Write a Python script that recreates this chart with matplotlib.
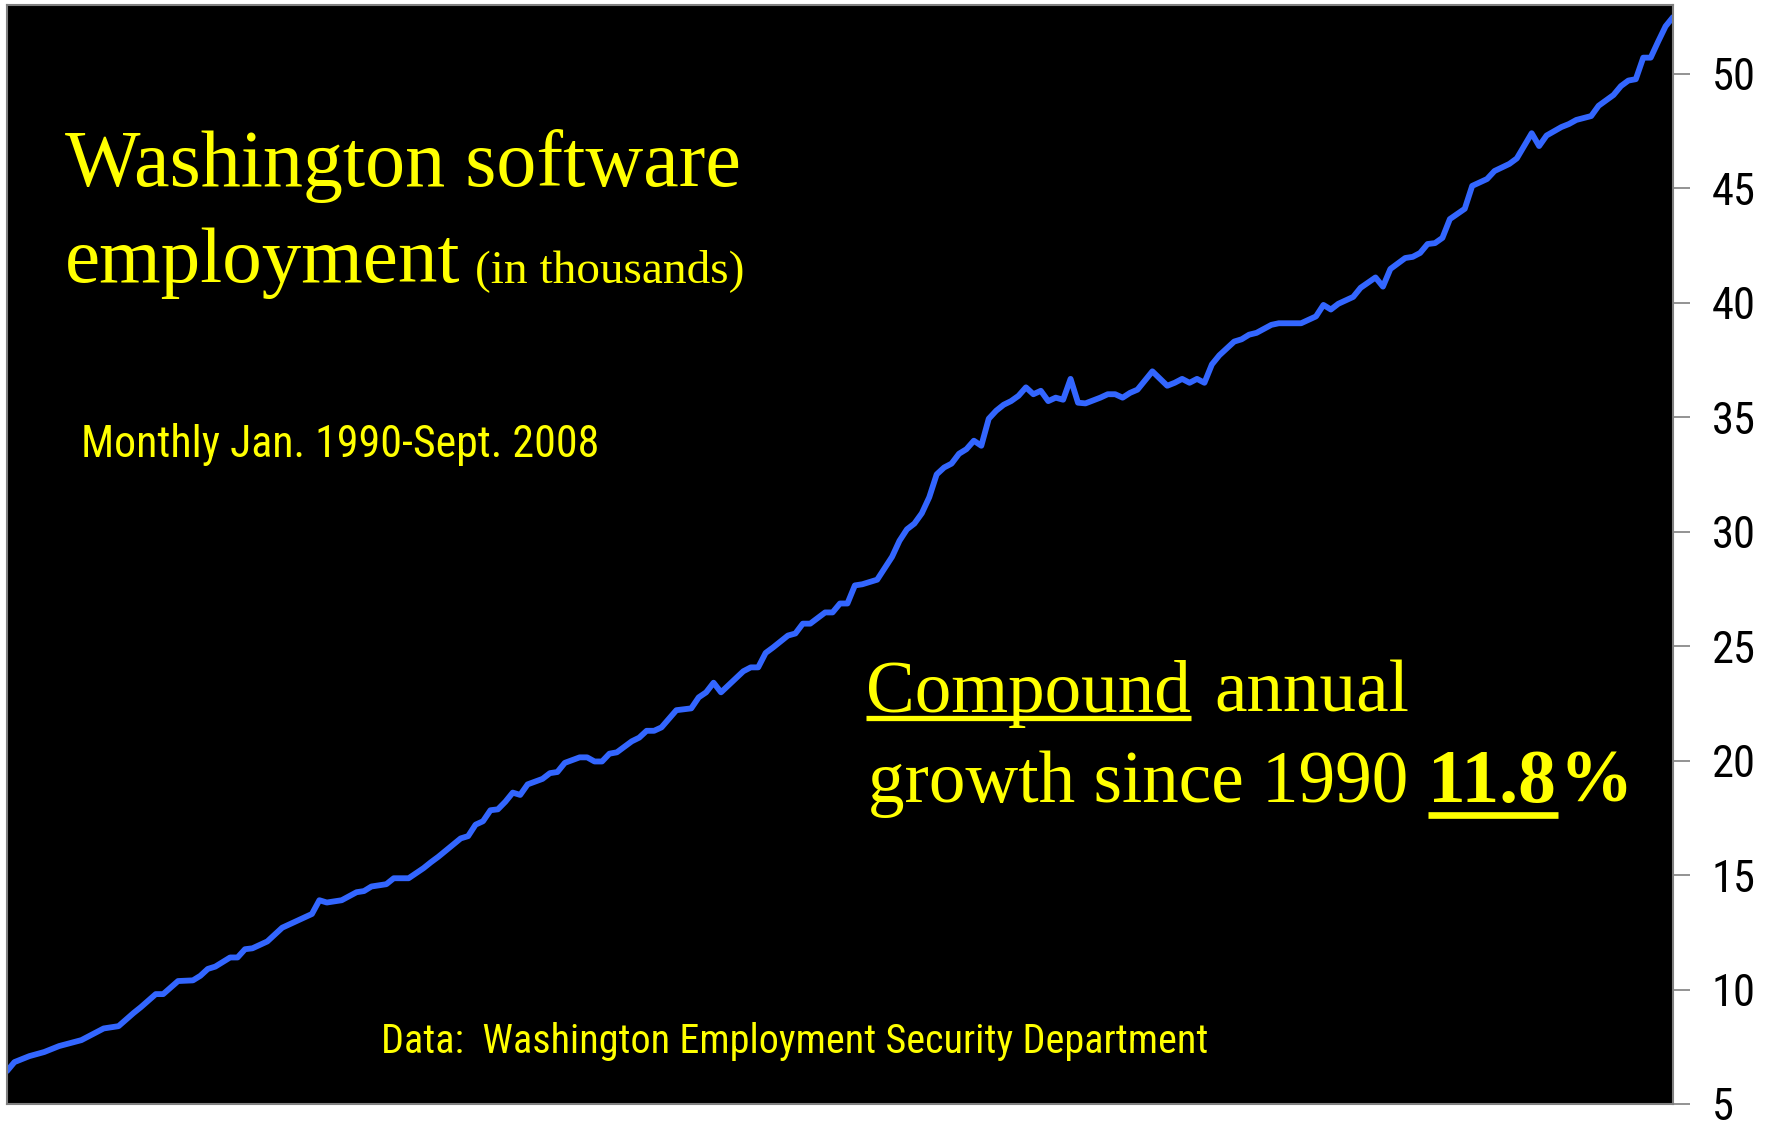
import os
import matplotlib
matplotlib.use("Agg")
import matplotlib.pyplot as plt
from matplotlib import font_manager
from matplotlib.lines import Line2D

# ---- data ----
months = [0, 1, 3, 5, 7, 10, 13, 15, 17, 18, 20, 21, 23, 25, 26, 27, 28, 30, 31, 32, 33, 35, 37, 39, 41, 42, 43, 45,
          47, 48, 49, 51, 52, 54, 56, 57, 58, 61, 62, 63, 64,
          65, 66, 67, 68, 69, 70, 72, 73, 74, 75, 77, 78, 79, 80, 81, 82, 84, 85, 86, 87, 88, 90, 92, 93, 94, 95, 96,
          99, 100, 101, 102, 103, 105, 106, 107, 108, 110, 111, 112, 113, 114, 115, 117,
          119, 120, 121, 122, 123, 124, 125, 126, 127, 128, 129, 130, 131, 132, 133, 134, 135, 136, 137, 138, 139, 140,
          141, 142, 143, 144, 145, 147, 148, 149, 150, 151, 152, 154, 156, 157, 158, 159, 160, 161, 162, 163, 165,
          166, 167, 168, 170, 171, 174, 176, 177, 178, 179, 181, 182, 184, 185, 186, 188, 189, 190, 191, 192, 193, 194,
          196, 197, 199, 200, 202, 203, 205, 206, 207, 209, 210, 211, 213, 214, 216, 217, 218, 219, 220, 221, 222, 223, 224]
employment = [6.44, 6.83, 7.09, 7.27, 7.53, 7.79, 8.3, 8.4, 8.97, 9.23, 9.8, 9.8, 10.37, 10.4, 10.6, 10.9, 11.0, 11.4,
              11.4, 11.76, 11.8, 12.1, 12.7, 13.0, 13.3, 13.9, 13.8, 13.9, 14.25, 14.3, 14.5, 14.6, 14.86, 14.86, 15.3,
              15.56, 15.8, 16.6, 16.7, 17.2, 17.35,
              17.83, 17.87, 18.2, 18.6, 18.5, 18.96, 19.2, 19.45, 19.5, 19.9, 20.14, 20.14, 19.96, 19.96, 20.3, 20.36,
              20.84, 21.0, 21.3, 21.3, 21.45, 22.2, 22.28, 22.76, 22.98, 23.4, 22.98, 23.9, 24.07, 24.07, 24.7, 24.94,
              25.46, 25.55, 25.98, 25.98, 26.47, 26.47, 26.86, 26.86, 27.65, 27.7, 27.9,
              28.9, 29.6, 30.1, 30.35, 30.8, 31.5, 32.5, 32.8, 32.97, 33.4, 33.6, 33.97, 33.75, 34.93, 35.28, 35.54,
              35.7, 35.93, 36.3, 36.0, 36.15, 35.7, 35.85, 35.76, 36.67, 35.63, 35.6, 35.85, 36.0, 36.0, 35.85, 36.06,
              36.2, 37.0, 36.37, 36.5, 36.67, 36.5, 36.67, 36.5, 37.3, 37.7, 38.3,
              38.4, 38.6, 38.68, 39.03, 39.1, 39.1, 39.4, 39.9, 39.7, 39.95, 40.25, 40.65, 41.1, 40.7, 41.47, 41.95,
              42.0, 42.17, 42.56, 42.6, 42.83, 43.65, 44.1, 45.1, 45.4, 45.75, 46.06, 46.3, 47.4, 46.84, 47.3, 47.67,
              47.8, 47.98, 48.15, 48.6, 49.07, 49.46, 49.7, 49.76, 50.7, 50.7, 51.4, 52.07, 52.47]
y_ticks = [5, 10, 15, 20, 25, 30, 35, 40, 45, 50]
y_tick_labels = ["5", "10", "15", "20", "25", "30", "35", "40", "45", "50"]

title_line1 = "Washington software"
title_line2 = "employment"
title_unit = "(in thousands)"
subtitle = "Monthly Jan. 1990-Sept. 2008"
source = "Data:  Washington Employment Security Department"
growth_word = "Compound"
growth_rest1 = "annual"
growth_rest2 = "growth since 1990"
growth_value = "11.8"
growth_pct = "%"


# ---- fonts: look for a narrow/condensed sans face ----
def find_narrow_sans():
    bases = ["liberation sans", "arial", "roboto", "open sans", "noto sans", "dejavu sans", "lato", "inter"]
    bad = ["bold", "light", "thin", "black", "medium", "semi", "italic", "oblique", "mono", "serif",
           "heavy", "extra", "ultra", "cjk", "display", "math", "symbol"]
    found = []
    for f in font_manager.fontManager.ttflist:
        n = f.name.lower()
        fn = os.path.basename(f.fname).lower()
        cond = ("narrow" in n or "condensed" in n or "narrow" in fn or "condensed" in fn
                or str(f.stretch) in ("condensed", "semi-condensed"))
        if not cond:
            continue
        if f.style != "normal":
            continue
        if any(b in fn for b in bad):
            continue
        rank = None
        for i, b in enumerate(bases):
            if n.startswith(b):
                rank = i
                break
        if rank is None:
            continue
        found.append((rank, f.fname))
    if found:
        found.sort()
        return font_manager.FontProperties(fname=found[0][1])
    return None


narrow_fp = find_narrow_sans()
SANS = ["Liberation Sans", "DejaVu Sans"]
SERIF = ["Liberation Serif", "DejaVu Serif"]
plt.rcParams["font.family"] = SANS


def sans_props(size):
    if narrow_fp is not None:
        fp = narrow_fp.copy()
        fp.set_size(size)
        return fp
    return font_manager.FontProperties(family=SANS, size=size)


W, H = 1767, 1122
DPI = 100
fig = plt.figure(figsize=(W / DPI, H / DPI), dpi=DPI, facecolor="white")


def px(x, y):
    return x / W, 1 - y / H


left, right, top, bottom = 7, 1673, 5, 1104
ax = fig.add_axes([left / W, 1 - bottom / H, (right - left) / W, (bottom - top) / H])
ax.set_facecolor("black")
ax.plot(months, employment, color="#3366FF", lw=4.2, solid_joinstyle="round", solid_capstyle="round")
ax.set_xlim(0, 224)
ax.set_ylim(5, 53)
ax.set_xticks([])
ax.yaxis.tick_right()
ax.set_yticks(y_ticks)
ax.set_yticklabels(y_tick_labels)
ax.tick_params(axis="y", direction="out", length=12, width=1.2, color="#808080",
               pad=16, labelcolor="black")
for s in ax.spines.values():
    s.set_color("#808080")
    s.set_linewidth(1.5)

YEL = "#FFFF00"
SZ = 55

# Title
fig.text(*px(65, 186), title_line1, color=YEL, fontsize=57.6, family=SERIF, va="baseline", ha="left")
fig.text(*px(65, 282), title_line2, color=YEL, fontsize=57.0, family=SERIF, va="baseline", ha="left")
fig.text(*px(475, 282), title_unit, color=YEL, fontsize=34, family=SERIF, va="baseline", ha="left")

t_sub = fig.text(*px(81, 457), subtitle, color=YEL, fontproperties=sans_props(25), va="baseline", ha="left")
t_src = fig.text(*px(381, 1053), source, color=YEL, fontproperties=sans_props(25), va="baseline", ha="left")

# Growth annotation
t1 = fig.text(*px(866, 712), growth_word, color=YEL, fontsize=SZ, family=SERIF, va="baseline", ha="left")
t1b = fig.text(*px(1214, 712), growth_rest1, color=YEL, fontsize=SZ, family=SERIF, va="baseline", ha="left")
t3 = fig.text(*px(868, 802), growth_rest2, color=YEL, fontsize=SZ, family=SERIF, va="baseline", ha="left")
t2 = fig.text(*px(1428, 802), growth_value, color=YEL, fontsize=SZ, family=SERIF, weight="bold",
              va="baseline", ha="left")

for lbl in ax.get_yticklabels():
    lbl.set_fontproperties(sans_props(33))

fig.canvas.draw()
r = fig.canvas.get_renderer()


def fit_width(t, target):
    w = t.get_window_extent(r).width
    t.set_fontsize(t.get_fontsize() * target / w)


fit_width(t_sub, 519)
fit_width(t_src, 827)

# common size for the growth annotation, fitted to the width of its second line
w3 = t3.get_window_extent(r).width
SZ2 = SZ * 540 / w3
for t in (t1, t1b, t3):
    t.set_fontsize(SZ2)
fit_width(t2, 128)

# tick labels: "50" spans about 44 px in the reference
lbl50 = [l for l in ax.get_yticklabels() if l.get_text() == "50"]
if lbl50:
    w50 = lbl50[0].get_window_extent(r).width
    tsize = min(33, 33 * 44 / w50)
    for lbl in ax.get_yticklabels():
        lbl.set_fontsize(tsize)

fig.canvas.draw()
b1 = t1.get_window_extent(r)
b2 = t2.get_window_extent(r)
fig.text((b2.x1 + 4) / W, 1 - 802 / H, growth_pct, color=YEL, fontsize=SZ2, family=SERIF, weight="bold",
         va="baseline", ha="left")
fig.add_artist(Line2D([b1.x0 / W, b1.x1 / W], [1 - 718 / H, 1 - 718 / H], color=YEL, lw=3.8,
                      transform=fig.transFigure, solid_capstyle="butt"))
fig.add_artist(Line2D([b2.x0 / W, (b2.x1 + 2) / W], [1 - 815 / H, 1 - 815 / H], color=YEL, lw=4.8,
                      transform=fig.transFigure, solid_capstyle="butt"))

fig.savefig("out.png", dpi=DPI, facecolor="white")
